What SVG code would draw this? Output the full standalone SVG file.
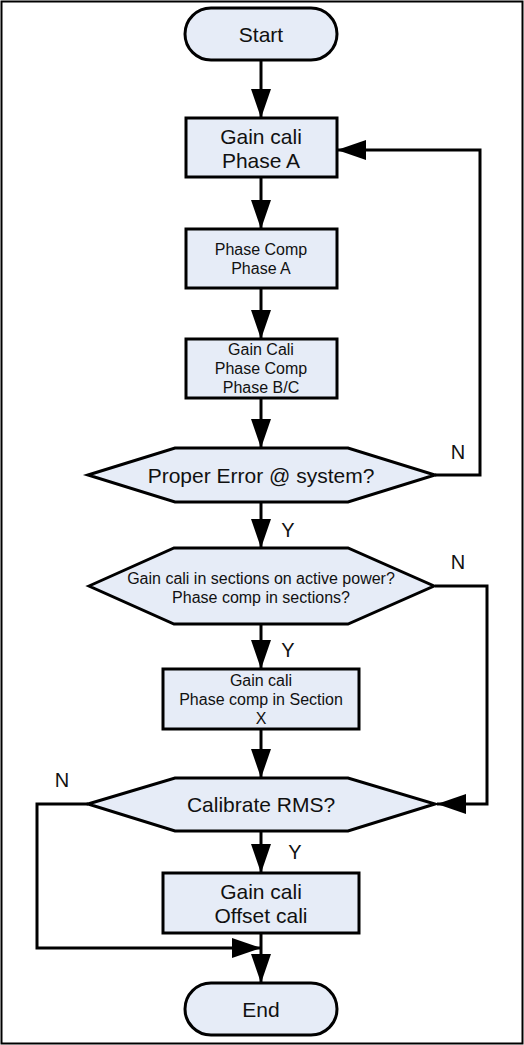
<svg xmlns="http://www.w3.org/2000/svg" width="524" height="1045" viewBox="0 0 524 1045">
<style>
.shape{fill:#E6ECF7;stroke:#000;stroke-width:3}
.conn{fill:none;stroke:#000;stroke-width:3}
text{font-family:"Liberation Sans",Arial,sans-serif;fill:#111;text-anchor:middle}
.big{font-size:21px}
.small{font-size:16px}
.lbl{font-size:20px}
</style>
<defs>
<marker id="arr" markerUnits="userSpaceOnUse" markerWidth="30" markerHeight="20" refX="29" refY="10" orient="auto">
<path d="M0,0 L29,10 L0,20 z" fill="#000"/>
</marker>
</defs>
<rect x="1.5" y="1.5" width="521" height="1042" fill="#fff" stroke="#000" stroke-width="2"/>
<g id="connectors">
<line class="conn" x1="261" y1="60" x2="261" y2="118" marker-end="url(#arr)"/>
<line class="conn" x1="261" y1="177" x2="261" y2="229" marker-end="url(#arr)"/>
<line class="conn" x1="261" y1="288" x2="261" y2="339" marker-end="url(#arr)"/>
<line class="conn" x1="261" y1="398" x2="261" y2="448" marker-end="url(#arr)"/>
<line class="conn" x1="261" y1="502" x2="261" y2="548" marker-end="url(#arr)"/>
<line class="conn" x1="261" y1="624" x2="261" y2="669" marker-end="url(#arr)"/>
<line class="conn" x1="261" y1="729" x2="261" y2="778" marker-end="url(#arr)"/>
<line class="conn" x1="261" y1="831" x2="261" y2="873" marker-end="url(#arr)"/>
<line class="conn" x1="261" y1="933" x2="261" y2="983" marker-end="url(#arr)"/>
<polyline class="conn" points="435,475 480,475 480,150 337,150" marker-end="url(#arr)"/>
<polyline class="conn" points="435,586 487,586 487,804 437,804" marker-end="url(#arr)"/>
<polyline class="conn" points="88,804 37,804 37,948 261,948" marker-end="url(#arr)"/>
<text class="lbl" x="458" y="459">N</text>
<text class="lbl" x="288" y="537">Y</text>
<text class="lbl" x="458" y="569">N</text>
<text class="lbl" x="288" y="657">Y</text>
<text class="lbl" x="62" y="787">N</text>
<text class="lbl" x="295" y="859">Y</text>
</g>
<g id="start">
<rect class="shape" x="185" y="8" width="152" height="52" rx="26"/>
<text class="big" x="261" y="41.5">Start</text>
</g>
<g id="gainA">
<rect class="shape" x="186" y="118" width="151" height="59"/>
<text class="big" x="261" y="144">Gain cali</text>
<text class="big" x="261" y="168">Phase A</text>
</g>
<g id="phaseCompA">
<rect class="shape" x="186" y="229" width="151" height="59"/>
<text class="small" x="261" y="254.5">Phase Comp</text>
<text class="small" x="261" y="273.5">Phase A</text>
</g>
<g id="gainBC">
<rect class="shape" x="186" y="339" width="151" height="59"/>
<text class="small" x="261" y="355">Gain Cali</text>
<text class="small" x="261" y="374">Phase Comp</text>
<text class="small" x="261" y="393">Phase B/C</text>
</g>
<g id="properError">
<polygon class="shape" points="88,475 175,448 348,448 435,475 348,502 175,502"/>
<text class="big" x="261" y="482.5">Proper Error @ system?</text>
</g>
<g id="sections">
<polygon class="shape" points="89,586 174,548 348,548 434,586 348,624 174,624"/>
<text class="small" x="261" y="584">Gain cali in sections on active power?</text>
<text class="small" x="261" y="603">Phase comp in sections?</text>
</g>
<g id="sectionX">
<rect class="shape" x="163" y="669" width="196" height="60"/>
<text class="small" x="261" y="686">Gain cali</text>
<text class="small" x="261" y="705">Phase comp in Section</text>
<text class="small" x="261" y="724">X</text>
</g>
<g id="rms">
<polygon class="shape" points="88,804 175,778 348,778 435,804 348,831 175,831"/>
<text class="big" x="261" y="811.5">Calibrate RMS?</text>
</g>
<g id="offset">
<rect class="shape" x="163" y="873" width="196" height="60"/>
<text class="big" x="261" y="898.5">Gain cali</text>
<text class="big" x="261" y="922.5">Offset cali</text>
</g>
<g id="end">
<rect class="shape" x="185" y="983" width="152" height="52" rx="26"/>
<text class="big" x="261" y="1016.5">End</text>
</g>
</svg>
